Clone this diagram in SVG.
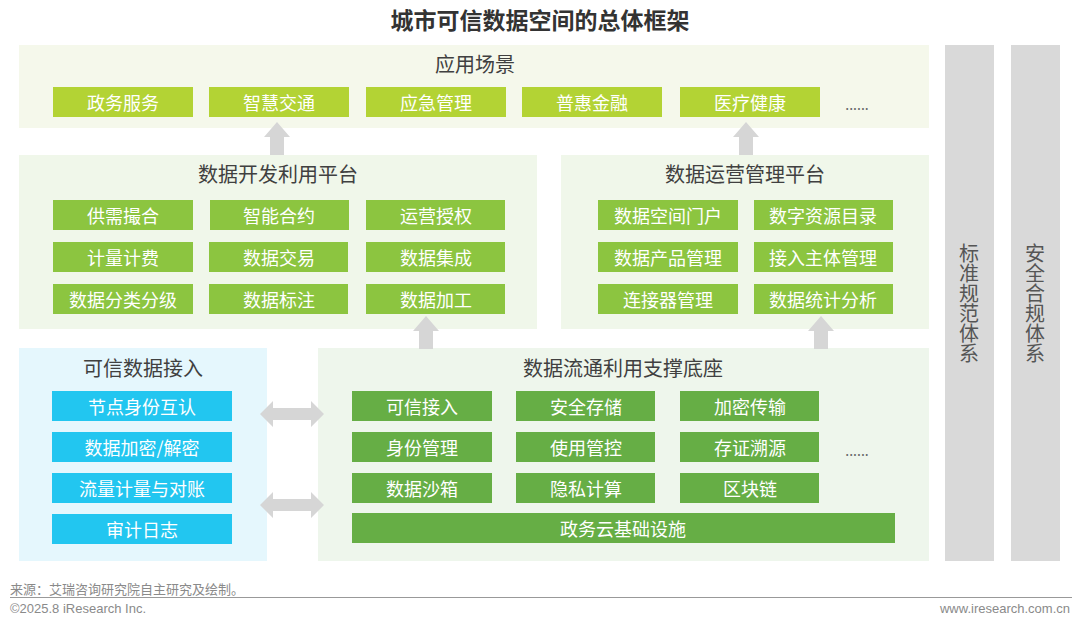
<svg xmlns="http://www.w3.org/2000/svg" width="1080" height="624" viewBox="0 0 1080 624">
<style>
text{font-family:"Noto Sans CJK SC","Microsoft YaHei",sans-serif}
.ttl{font-size:23px;font-weight:bold;fill:#333;text-anchor:middle}
.pt{font-size:20px;fill:#404040;text-anchor:middle;dominant-baseline:central}
.bt{font-size:18px;fill:#fff;text-anchor:middle;dominant-baseline:central}
.dots{font-size:14px;fill:#666;text-anchor:middle}
.vt{font-size:20px;fill:#555;writing-mode:vertical-rl;text-orientation:upright}
.ft{font-family:"Liberation Sans Narrow","Liberation Sans","Noto Sans CJK SC",sans-serif;font-size:13px;fill:#8a8a8a}
.pa{fill:#f5f8eb}
.pg{fill:#f0f7ea}
.pc{fill:#e5f7fd}
.pb{fill:#eef6ec}
.ba{fill:#b3d334}
.bg{fill:#8cc540}
.bc{fill:#22c6f0}
.bd{fill:#66ae45}
.bar{fill:#d9d9d9}
.arr{fill:#d6d6d6}
</style>
<defs>
<path id="up" d="M0,0 L13,15 L7,15 L7,33 L-7,33 L-7,15 L-13,15 Z"/>
<path id="dbl" d="M0,0 L13,-13 L13,-6 L51,-6 L51,-13 L64,0 L51,13 L51,6 L13,6 L13,13 Z"/>
</defs>
<rect width="1080" height="624" fill="#fff"/>
<text class="ttl" x="540" y="29">城市可信数据空间的总体框架</text>

<g id="app-layer">
<rect class="pa" x="19" y="45" width="910" height="83"/>
<text class="pt" x="475" y="63">应用场景</text>
<rect class="ba" x="53" y="87" width="140" height="30"/><text class="bt" x="123" y="102">政务服务</text>
<rect class="ba" x="209" y="87" width="140" height="30"/><text class="bt" x="279" y="102">智慧交通</text>
<rect class="ba" x="366" y="87" width="140" height="30"/><text class="bt" x="436" y="102">应急管理</text>
<rect class="ba" x="522" y="87" width="140" height="30"/><text class="bt" x="592" y="102">普惠金融</text>
<rect class="ba" x="680" y="87" width="140" height="30"/><text class="bt" x="750" y="102">医疗健康</text>
<text class="dots" x="857" y="110">......</text>
</g>

<g id="dev-platform">
<rect class="pg" x="19" y="155" width="518" height="174"/>
<text class="pt" x="278" y="173">数据开发利用平台</text>
<rect class="bg" x="53" y="200" width="140" height="30"/><text class="bt" x="123" y="215">供需撮合</text>
<rect class="bg" x="210" y="200" width="139" height="30"/><text class="bt" x="279" y="215">智能合约</text>
<rect class="bg" x="366" y="200" width="139" height="30"/><text class="bt" x="436" y="215">运营授权</text>
<rect class="bg" x="53" y="242" width="140" height="30"/><text class="bt" x="123" y="257">计量计费</text>
<rect class="bg" x="209" y="242" width="139" height="30"/><text class="bt" x="279" y="257">数据交易</text>
<rect class="bg" x="366" y="242" width="139" height="30"/><text class="bt" x="436" y="257">数据集成</text>
<rect class="bg" x="53" y="284" width="140" height="30"/><text class="bt" x="123" y="299">数据分类分级</text>
<rect class="bg" x="209" y="284" width="139" height="30"/><text class="bt" x="279" y="299">数据标注</text>
<rect class="bg" x="366" y="284" width="139" height="30"/><text class="bt" x="436" y="299">数据加工</text>
</g>

<g id="ops-platform">
<rect class="pg" x="561" y="155" width="368" height="174"/>
<text class="pt" x="745" y="173">数据运营管理平台</text>
<rect class="bg" x="598" y="200" width="140" height="30"/><text class="bt" x="668" y="215">数据空间门户</text>
<rect class="bg" x="754" y="200" width="139" height="30"/><text class="bt" x="823" y="215">数字资源目录</text>
<rect class="bg" x="598" y="242" width="140" height="30"/><text class="bt" x="668" y="257">数据产品管理</text>
<rect class="bg" x="754" y="242" width="139" height="30"/><text class="bt" x="823" y="257">接入主体管理</text>
<rect class="bg" x="598" y="284" width="140" height="30"/><text class="bt" x="668" y="299">连接器管理</text>
<rect class="bg" x="754" y="284" width="139" height="30"/><text class="bt" x="823" y="299">数据统计分析</text>
</g>

<g id="trusted-access">
<rect class="pc" x="19" y="348" width="248" height="213"/>
<text class="pt" x="143" y="367">可信数据接入</text>
<rect class="bc" x="52" y="391" width="180" height="30"/><text class="bt" x="142" y="406">节点身份互认</text>
<rect class="bc" x="52" y="432" width="180" height="30"/><text class="bt" x="142" y="447">数据加密/解密</text>
<rect class="bc" x="52" y="473" width="180" height="30"/><text class="bt" x="142" y="488">流量计量与对账</text>
<rect class="bc" x="52" y="514" width="180" height="30"/><text class="bt" x="142" y="529">审计日志</text>
</g>

<g id="support-base">
<rect class="pb" x="318" y="348" width="611" height="213"/>
<text class="pt" x="623" y="367">数据流通利用支撑底座</text>
<rect class="bd" x="352" y="391" width="140" height="30"/><text class="bt" x="422" y="406">可信接入</text>
<rect class="bd" x="516" y="391" width="139" height="30"/><text class="bt" x="586" y="406">安全存储</text>
<rect class="bd" x="680" y="391" width="139" height="30"/><text class="bt" x="750" y="406">加密传输</text>
<rect class="bd" x="352" y="432" width="140" height="30"/><text class="bt" x="422" y="447">身份管理</text>
<rect class="bd" x="516" y="432" width="139" height="30"/><text class="bt" x="586" y="447">使用管控</text>
<rect class="bd" x="680" y="432" width="139" height="30"/><text class="bt" x="750" y="447">存证溯源</text>
<rect class="bd" x="352" y="473" width="140" height="30"/><text class="bt" x="422" y="488">数据沙箱</text>
<rect class="bd" x="516" y="473" width="139" height="30"/><text class="bt" x="586" y="488">隐私计算</text>
<rect class="bd" x="680" y="473" width="139" height="30"/><text class="bt" x="750" y="488">区块链</text>
<rect class="bd" x="352" y="513" width="543" height="30"/><text class="bt" x="623" y="528">政务云基础设施</text>
<text class="dots" x="857" y="456">......</text>
</g>

<g id="standards">
<rect class="bar" x="945" y="45" width="49" height="516"/>
<text class="vt" x="969" y="243">标准规范体系</text>
</g>
<g id="compliance">
<rect class="bar" x="1011" y="45" width="49" height="516"/>
<text class="vt" x="1035" y="243">安全合规体系</text>
</g>

<g id="connectors">
<use href="#up" class="arr" x="277" y="122"/>
<use href="#up" class="arr" x="746" y="122"/>
<use href="#up" class="arr" x="426" y="316"/>
<use href="#up" class="arr" x="821" y="316"/>
<use href="#dbl" class="arr" x="260" y="414"/>
<use href="#dbl" class="arr" x="260" y="505"/>
</g>

<g id="footer">
<text class="ft" x="10" y="594">来源：艾瑞咨询研究院自主研究及绘制。</text>
<line x1="10" y1="597.5" x2="1072" y2="597.5" stroke="#999" stroke-width="1"/>
<text class="ft" x="10" y="613">©2025.8 iResearch Inc.</text>
<text class="ft" x="1070" y="613" text-anchor="end">www.iresearch.com.cn</text>
</g>
</svg>
